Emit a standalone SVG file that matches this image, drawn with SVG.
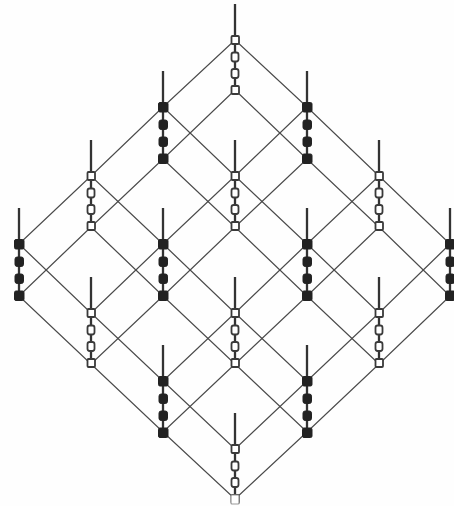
<svg xmlns="http://www.w3.org/2000/svg" width="454" height="506" viewBox="0 0 454 506">
<style>
.e{stroke:#4a4a4a;stroke-width:1.1;fill:none}
.s{stroke:#333;stroke-width:2.300;fill:none}
.w{fill:#fff;stroke:#3a3a3a;stroke-width:1.800}
.p{fill:#fff;stroke:#999;stroke-width:1.200}
.b{fill:#222;stroke:#222;stroke-width:1}
</style>
<defs>
<g id="white">
<path class="s" d="M0-36V51"/>
<rect class="w" x="-3.500" y="-4" width="7.500" height="8" rx="1"/>
<rect class="w" x="-3.500" y="12.500" width="7" height="9" rx="2.200"/>
<rect class="w" x="-3.500" y="29" width="7" height="9" rx="2.200"/>
<rect class="w" x="-3.500" y="46" width="7.500" height="8" rx="1"/>
</g>
<g id="black">
<path class="s" d="M0-36V51"/>
<rect class="b" x="-4.500" y="-4.500" width="9.500" height="9.500" rx="1.500"/>
<rect class="b" x="-4" y="13" width="8.500" height="9.500" rx="2.200"/>
<rect class="b" x="-4" y="30" width="8.500" height="9.500" rx="2.200"/>
<rect class="b" x="-4.500" y="47" width="9.500" height="9.500" rx="1.500"/>
</g>
</defs>
<rect width="454" height="506" fill="#fefefe"/>
<g id="connectors">
<path class="e" d="M235 40L163 107M235 40L307 107M163 107L91 176M163 107L235 176M307 107L235 176M307 107L379 176M91 176L19 244M91 176L163 244M235 176L163 244M235 176L307 244M379 176L307 244M379 176L450 244M19 244L91 313M163 244L91 313M163 244L235 313M307 244L235 313M307 244L379 313M450 244L379 313M91 313L163 381M235 313L163 381M235 313L307 381M379 313L307 381M163 381L235 449M307 381L235 449"/>
<path class="e" d="M235 90L163 159M235 90L307 159M163 159L91 227M163 159L235 227M307 159L235 227M307 159L379 227M91 227L19 296M91 227L163 296M235 227L163 296M235 227L307 296M379 227L307 296M379 227L450 296M19 296L91 364M163 296L91 364M163 296L235 364M307 296L235 364M307 296L379 364M450 296L379 364M91 364L163 432M235 364L163 432M235 364L307 432M379 364L307 432M163 432L235 499M307 432L235 499"/>
</g>
<g id="node-1"><use href="#white" x="235" y="40"/></g>
<g id="node-2"><use href="#black" x="163" y="107"/></g>
<g id="node-3"><use href="#black" x="307" y="107"/></g>
<g id="node-4"><use href="#white" x="91" y="176"/></g>
<g id="node-5"><use href="#white" x="235" y="176"/></g>
<g id="node-6"><use href="#white" x="379" y="176"/></g>
<g id="node-7"><use href="#black" x="19" y="244"/></g>
<g id="node-8"><use href="#black" x="163" y="244"/></g>
<g id="node-9"><use href="#black" x="307" y="244"/></g>
<g id="node-10"><use href="#black" x="450" y="244"/></g>
<g id="node-11"><use href="#white" x="91" y="313"/></g>
<g id="node-12"><use href="#white" x="235" y="313"/></g>
<g id="node-13"><use href="#white" x="379" y="313"/></g>
<g id="node-14"><use href="#black" x="163" y="381"/></g>
<g id="node-15"><use href="#black" x="307" y="381"/></g>
<g id="node-16"><use href="#white" x="235" y="449"/><rect class="p" x="231" y="495" width="8" height="9" rx="1"/></g>
</svg>
